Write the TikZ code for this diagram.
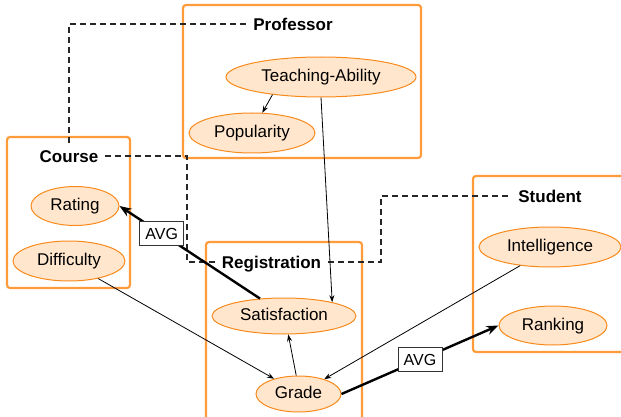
\documentclass[tikz,border=0pt]{standalone}
\usepackage{fontspec}
\setmainfont{Liberation Sans}
\usetikzlibrary{shapes.geometric,arrows.meta}
\definecolor{platecol}{HTML}{FF9B3A}
\definecolor{varfill}{HTML}{FFE6CC}
\definecolor{vardraw}{HTML}{F88A1C}
\tikzset{
  plate/.style={draw=platecol, line width=2.2pt, rounded corners=3pt},
  var/.style={ellipse, draw=vardraw, fill=varfill, line width=1pt, inner sep=0pt,
    text height=12.3pt, text depth=2.4pt},
  ptitle/.style={font=\fontsize{17}{20}\selectfont\bfseries, inner sep=7pt,
    text height=12.3pt, text depth=0pt},
  plink/.style={line width=1.4pt, dash pattern=on 6pt off 4pt, black!85},
  dep/.style={line width=0.8pt, -{Stealth[length=7pt,width=5pt]}},
  agg/.style={line width=2.4pt, -{Stealth[length=12pt,width=9pt]}},
  avg/.style={draw=black!80, fill=white, line width=1pt, inner sep=2pt,
    font=\fontsize{16}{19}\selectfont, minimum width=44pt, minimum height=24pt}
}
\begin{document}
\begin{tikzpicture}[x=1pt, y=-1pt, font=\fontsize{17}{20}\selectfont]
\useasboundingbox (0,0) rectangle (621,417);
\clip (0,0) rectangle (621,417);

% plates
\draw[plate] (183,5) rectangle (421,158);
\draw[plate] (7,137) rectangle (130,288);
\draw[plate] (206,242) rectangle (362,440);
\draw[plate] (473,176) rectangle (640,352);

% plate titles
\node[ptitle] (prof) at (293,24) {Professor};
\node[ptitle] (course) at (69,156) {Course};
\node[ptitle] (reg) at (271.5,262) {Registration};
\node[ptitle] (stud) at (550,196) {Student};

% attributes
\node[var, minimum width=190pt, minimum height=40pt] (ta) at (321,77) {Teaching-Ability};
\node[var, minimum width=126pt, minimum height=40pt] (pop) at (252,133) {Popularity};
\node[var, minimum width=88pt, minimum height=39pt] (rat) at (75,206) {Rating};
\node[var, minimum width=112pt, minimum height=40pt] (dif) at (69,261) {Difficulty};
\node[var, minimum width=144pt, minimum height=36pt] (sat) at (284,316) {Satisfaction};
\node[var, minimum width=85pt, minimum height=36pt] (gr) at (298.5,394) {Grade};
\node[var, minimum width=142pt, minimum height=40pt] (int) at (550,247) {Intelligence};
\node[var, minimum width=108pt, minimum height=39pt] (rank) at (553,325.5) {Ranking};

% links between plates
\coordinate (bendA) at (187,0);
\coordinate (bendB) at (381,0);
\draw[plink] (course.north) |- (prof.west);
\draw[plink] (course.east) -| (bendA |- reg.west) -- (reg.west);
\draw[plink] (reg.east) -| (bendB |- stud.west) -- (stud.west);

% dependencies
\draw[dep] (ta.200) -- (pop.63);
\draw[dep] (ta.south) -- (sat.16);
\draw[dep] (dif.329) -- (gr.148);
\draw[dep] (int.212) -- (gr.30);
\draw[dep] (gr.97) -- (sat.283);

% aggregations
\draw[agg] (sat.144) -- node[avg, pos=0.7] (avg1) {AVG} (rat.east);
\draw[agg] (gr.east) -- node[avg, pos=0.5] (avg2) {AVG} (rank.west);
\end{tikzpicture}
\end{document}
